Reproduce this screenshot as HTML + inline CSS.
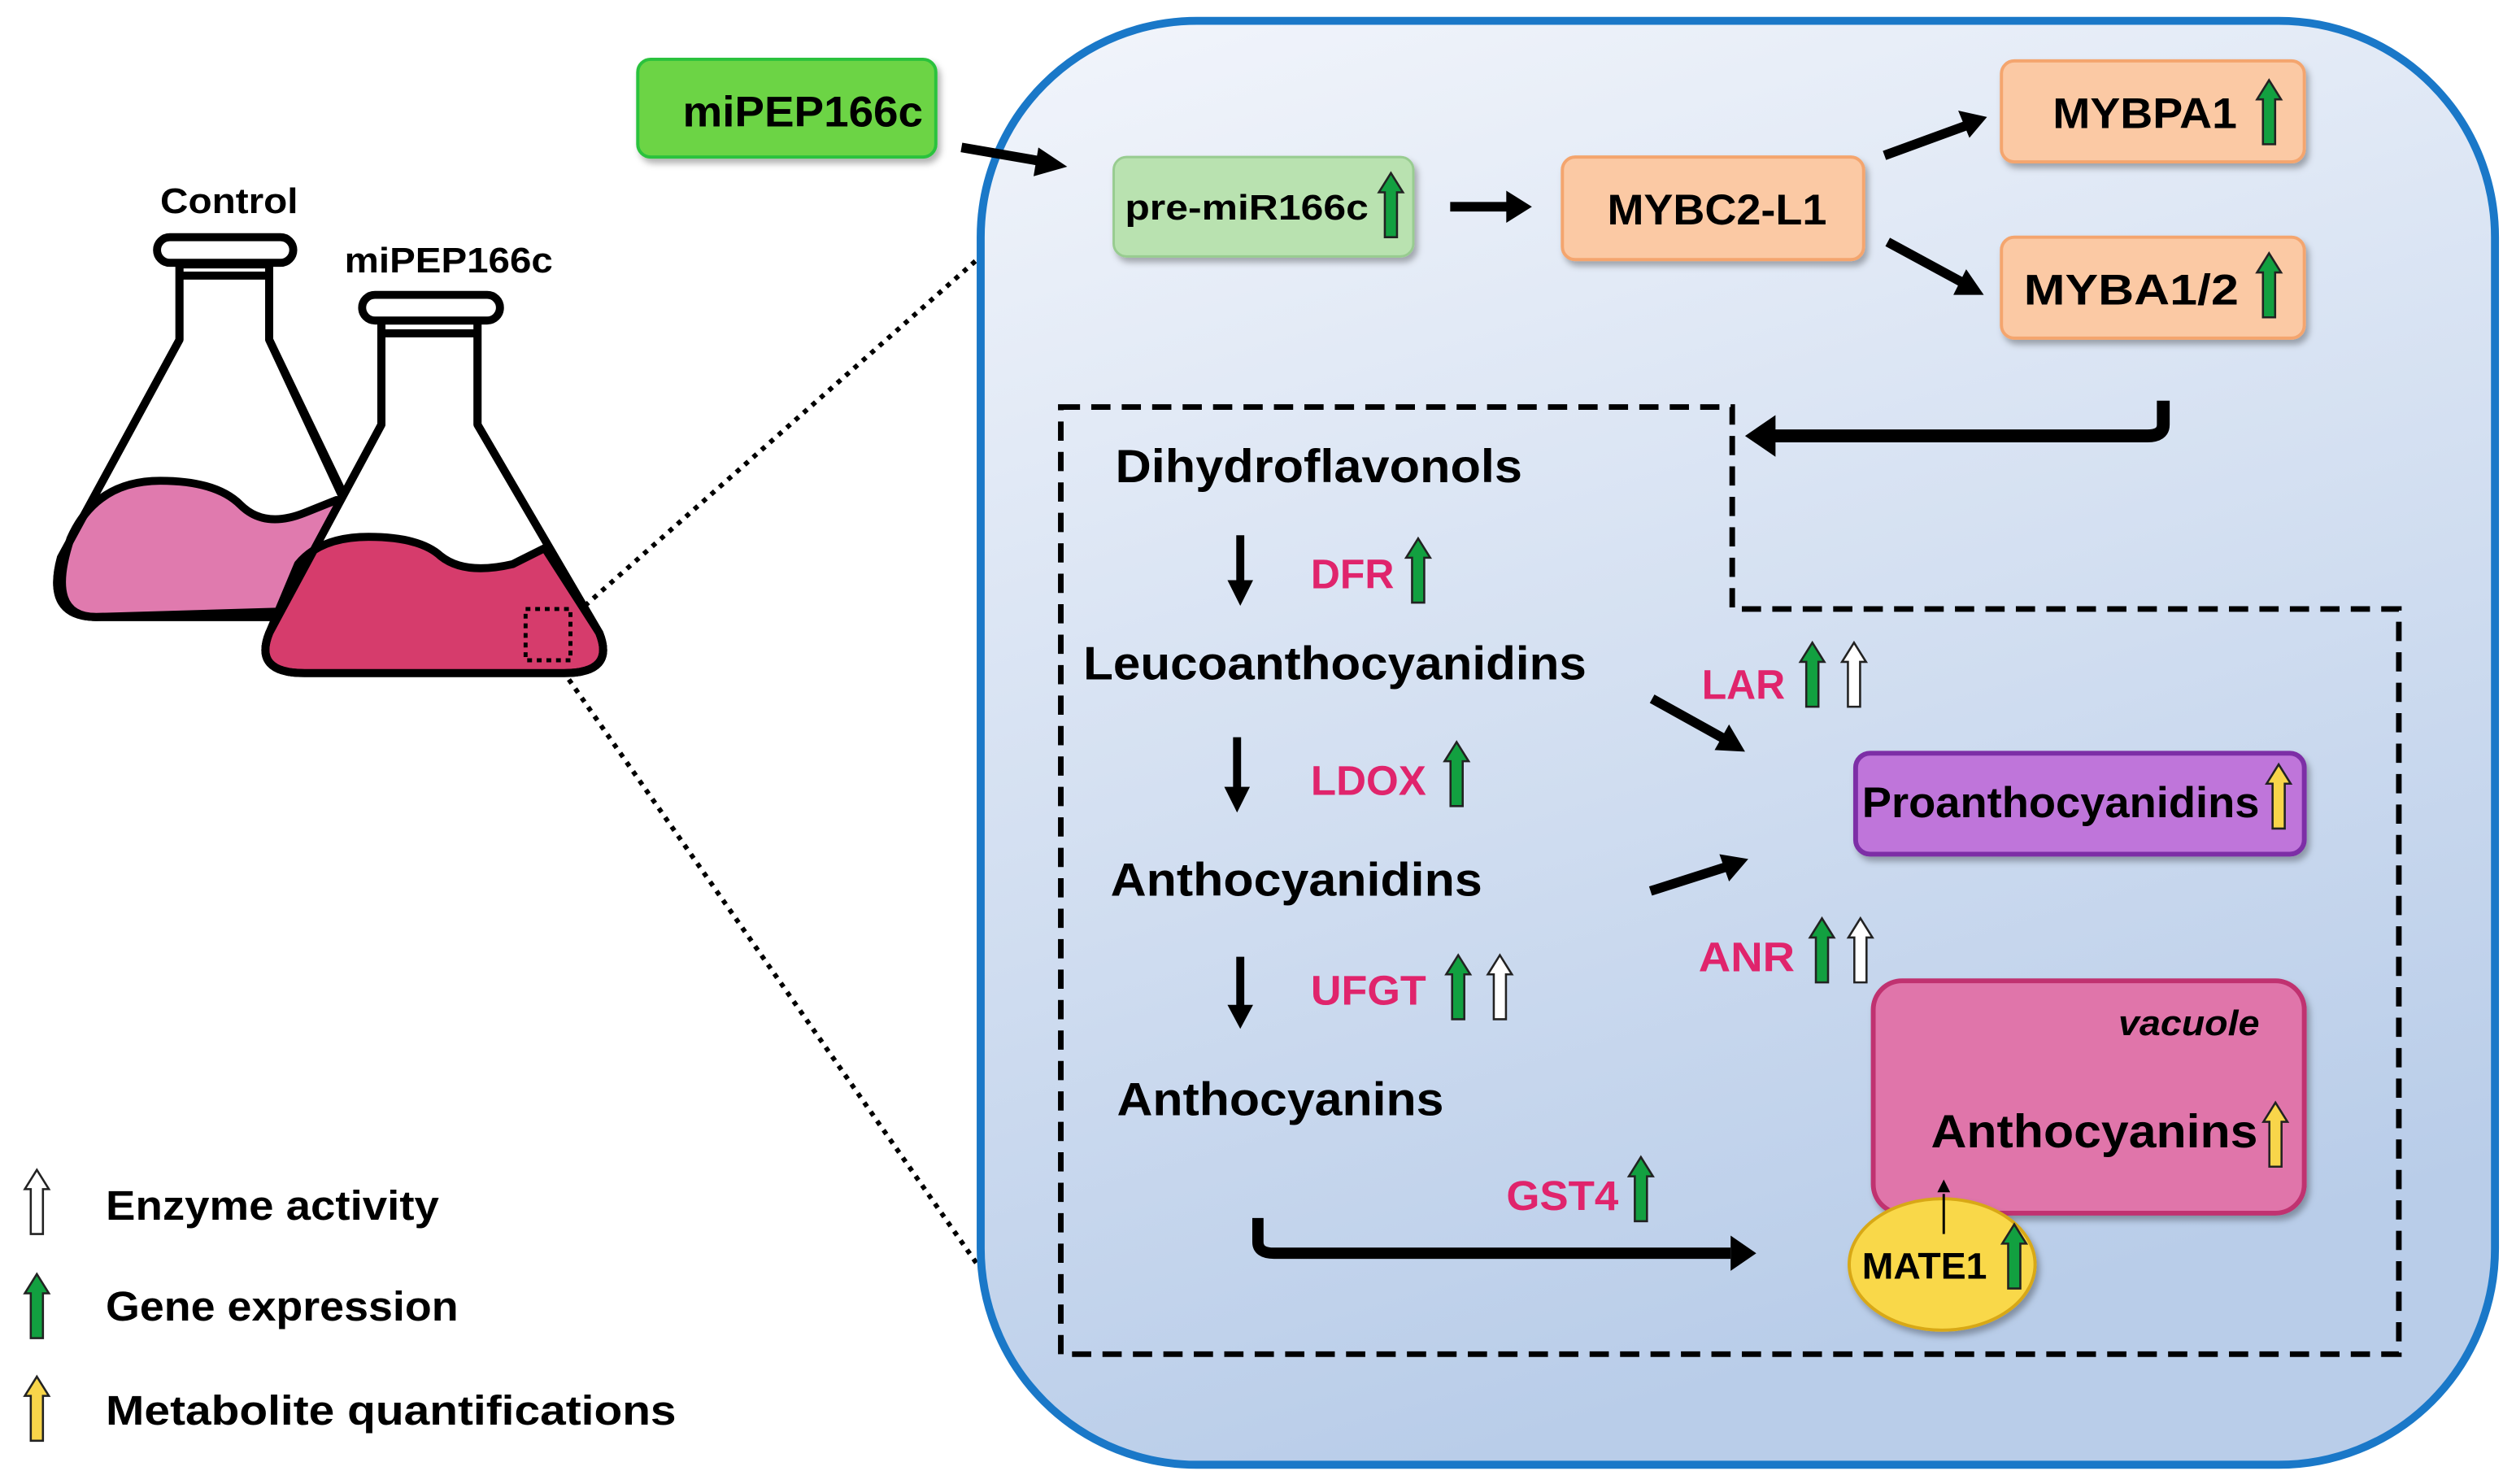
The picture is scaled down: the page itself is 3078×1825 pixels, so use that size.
<!DOCTYPE html>
<html><head><meta charset="utf-8"><style>
html,body{margin:0;padding:0;background:#fff}
svg{display:block}
text{font-family:"Liberation Sans Narrow","Liberation Sans",sans-serif;font-weight:bold}
</style></head><body>
<svg width="3078" height="1825" viewBox="0 0 1562 926" preserveAspectRatio="none" xmlns="http://www.w3.org/2000/svg">
<defs>
<linearGradient id="bg" x1="0" y1="0" x2="0.3" y2="1">
<stop offset="0" stop-color="#f2f5fb"/><stop offset="1" stop-color="#b9cde9"/></linearGradient>
<filter id="sh" x="-10%" y="-10%" width="130%" height="140%"><feDropShadow dx="2" dy="3" stdDeviation="2" flood-color="#000" flood-opacity="0.3"/></filter>
<path id="ua" d="M0,0 L7.5,12 L3.8,12 L3.8,40 L-3.8,40 L-3.8,12 L-7.5,12 Z" stroke="#222" stroke-width="1.3"/>
</defs>
<line x1="365" y1="378" x2="612" y2="160" stroke="#000" stroke-width="3" stroke-dasharray="3,4"/>
<line x1="355" y1="424" x2="612" y2="792" stroke="#000" stroke-width="3" stroke-dasharray="3,4"/>
<rect x="612" y="13" width="945" height="901" rx="135" fill="url(#bg)" stroke="#1a78c8" stroke-width="5"/>
<g stroke="#000" stroke-width="5" stroke-linejoin="round">
<path d="M112,165 L112,212 L38,348 Q28,385 60,385 L222,385 L232,345 L168,212 L168,165 Z" fill="#fff"/>
<path d="M44,336 Q60,300 100,300 Q135,300 150,315 Q165,330 190,320 L210,312 L232,380 L60,385 Q28,385 44,336 Z" fill="#e07aae"/>
<path d="M112,165 L112,212 L38,348 Q28,385 60,385 L222,385 M168,165 L168,212 L230,345" fill="none"/>
<rect x="98" y="148" width="85" height="16" rx="8" fill="#fff"/>
<line x1="112" y1="172" x2="168" y2="172"/>
<path d="M238,200 L238,265 L168,395 Q158,420 190,420 L352,420 Q384,420 374,395 L298,265 L298,200 Z" fill="#fff"/>
<path d="M186,352 Q200,335 230,335 Q262,335 275,347 Q290,359 320,352 L340,342 L374,395 Q384,420 352,420 L190,420 Q158,420 168,395 Z" fill="#d63c6c"/>
<path d="M238,200 L238,265 L168,395 Q158,420 190,420 L352,420 Q384,420 374,395 L298,265 L298,200" fill="none"/>
<rect x="226" y="184" width="86" height="16" rx="8" fill="#fff"/>
<line x1="238" y1="208" x2="298" y2="208"/>
</g>
<rect x="328" y="380" width="28" height="32" fill="none" stroke="#000" stroke-width="2.5" stroke-dasharray="3,3"/>
<text x="100" y="133" font-size="22" textLength="86" lengthAdjust="spacingAndGlyphs">Control</text>
<text x="215" y="170" font-size="22" textLength="130" lengthAdjust="spacingAndGlyphs">miPEP166c</text>
<rect x="398" y="37" width="186" height="61" rx="8" fill="#6cd444" stroke="#2cc23c" stroke-width="2" filter="url(#sh)"/>
<text x="426" y="79" font-size="27" textLength="150" lengthAdjust="spacingAndGlyphs">miPEP166c</text>
<rect x="695" y="98" width="187" height="62" rx="8" fill="#b9e2b0" stroke="#98cc90" stroke-width="1.5" filter="url(#sh)"/>
<text x="702" y="137" font-size="22" textLength="152" lengthAdjust="spacingAndGlyphs">pre-miR166c</text>
<use href="#ua" transform="translate(868,108)" fill="#12a040"/>
<rect x="975" y="98" width="188" height="64" rx="8" fill="#fbc9a4" stroke="#f4a56e" stroke-width="2" filter="url(#sh)"/>
<text x="1003" y="140" font-size="27" textLength="137" lengthAdjust="spacingAndGlyphs">MYBC2-L1</text>
<rect x="1249" y="38" width="189" height="63" rx="8" fill="#fbc9a4" stroke="#f4a56e" stroke-width="2" filter="url(#sh)"/>
<text x="1281" y="80" font-size="27" textLength="115" lengthAdjust="spacingAndGlyphs">MYBPA1</text>
<use href="#ua" transform="translate(1416,50)" fill="#12a040"/>
<rect x="1249" y="148" width="189" height="63" rx="8" fill="#fbc9a4" stroke="#f4a56e" stroke-width="2" filter="url(#sh)"/>
<text x="1263" y="190" font-size="27" textLength="134" lengthAdjust="spacingAndGlyphs">MYBA1/2</text>
<use href="#ua" transform="translate(1416,158)" fill="#12a040"/>
<g stroke="#000" stroke-width="6" fill="#000">
<line x1="600" y1="92" x2="652" y2="101"/>
<line x1="905" y1="129" x2="942" y2="129"/>
<line x1="1176" y1="97" x2="1228" y2="78"/>
<line x1="1178" y1="151" x2="1226" y2="177"/>
</g>
<g fill="#000">
<path d="M666,104 L648,92 L645,110 Z"/>
<path d="M956,129 L940,119 L940,139 Z"/>
<path d="M1240,73 L1222,69 L1229,86 Z"/>
<path d="M1238,184 L1227,168 L1219,184 Z"/>
</g>
<path d="M1350,250 L1350,265 Q1350,272 1340,272 L1105,272" fill="none" stroke="#000" stroke-width="8"/>
<path d="M1089,272 L1108,259 L1108,285 Z" fill="#000"/>
<path d="M662,254 L1081,254 L1081,380 L1497,380 L1497,845 L662,845 Z" fill="none" stroke="#000" stroke-width="3.5" stroke-dasharray="12,7"/>
<text x="696" y="301" font-size="29" textLength="254" lengthAdjust="spacingAndGlyphs">Dihydroflavonols</text>
<text x="676" y="424" font-size="29" textLength="314" lengthAdjust="spacingAndGlyphs">Leucoanthocyanidins</text>
<text x="693" y="559" font-size="29" textLength="232" lengthAdjust="spacingAndGlyphs">Anthocyanidins</text>
<text x="697" y="696" font-size="29" textLength="204" lengthAdjust="spacingAndGlyphs">Anthocyanins</text>
<g stroke="#000" stroke-width="5">
<line x1="774" y1="334" x2="774" y2="365"/>
<line x1="772" y1="460" x2="772" y2="494"/>
<line x1="774" y1="597" x2="774" y2="630"/>
</g>
<g fill="#000">
<path d="M774,378 L766,362 L782,362 Z"/>
<path d="M772,507 L764,491 L780,491 Z"/>
<path d="M774,642 L766,627 L782,627 Z"/>
</g>
<g fill="#e0246c" font-size="26">
<text x="818" y="367" textLength="52" lengthAdjust="spacingAndGlyphs">DFR</text>
<text x="818" y="496" textLength="72" lengthAdjust="spacingAndGlyphs">LDOX</text>
<text x="818" y="627" textLength="72" lengthAdjust="spacingAndGlyphs">UFGT</text>
<text x="1062" y="436" textLength="52" lengthAdjust="spacingAndGlyphs">LAR</text>
<text x="1060" y="606" textLength="60" lengthAdjust="spacingAndGlyphs">ANR</text>
<text x="940" y="755" textLength="70" lengthAdjust="spacingAndGlyphs">GST4</text>
</g>
<use href="#ua" transform="translate(885,336)" fill="#12a040"/>
<use href="#ua" transform="translate(909,463)" fill="#12a040"/>
<use href="#ua" transform="translate(910,596)" fill="#12a040"/>
<use href="#ua" transform="translate(936,596)" fill="#fff"/>
<use href="#ua" transform="translate(1131,401)" fill="#12a040"/>
<use href="#ua" transform="translate(1157,401)" fill="#fff"/>
<use href="#ua" transform="translate(1137,573)" fill="#12a040"/>
<use href="#ua" transform="translate(1161,573)" fill="#fff"/>
<use href="#ua" transform="translate(1024,722)" fill="#12a040"/>
<g stroke="#000" stroke-width="6">
<line x1="1031" y1="436" x2="1076" y2="461"/>
<line x1="1030" y1="556" x2="1077" y2="541"/>
</g>
<path d="M1089,469 L1079,452 L1070,468 Z M1091,536 L1073,533 L1079,550 Z" fill="#000"/>
<path d="M785,760 L785,775 Q785,782 795,782 L1080,782" fill="none" stroke="#000" stroke-width="7"/>
<path d="M1096,782 L1080,771 L1080,793 Z" fill="#000"/>
<rect x="1158" y="470" width="280" height="63" rx="9" fill="#bf75da" stroke="#7d2fa6" stroke-width="3" filter="url(#sh)"/>
<text x="1162" y="510" font-size="27" textLength="248" lengthAdjust="spacingAndGlyphs">Proanthocyanidins</text>
<use href="#ua" transform="translate(1422,477)" fill="#f8d54a"/>
<rect x="1169" y="612" width="269" height="145" rx="18" fill="#e075aa" stroke="#c03070" stroke-width="3" filter="url(#sh)"/>
<text x="1322" y="646" font-size="22" font-style="italic" font-weight="normal" textLength="88" lengthAdjust="spacingAndGlyphs">vacuole</text>
<text x="1205" y="716" font-size="29" textLength="204" lengthAdjust="spacingAndGlyphs">Anthocyanins</text>
<use href="#ua" transform="translate(1420,688)" fill="#f8d54a"/>
<ellipse cx="1212" cy="789" rx="58" ry="41" fill="#f9d84a" stroke="#d8a818" stroke-width="2" filter="url(#sh)"/>
<line x1="1213" y1="770" x2="1213" y2="745" stroke="#000" stroke-width="1.5"/>
<path d="M1213,736 L1209,744 L1217,744 Z" fill="#000"/>
<text x="1162" y="798" font-size="23" textLength="78" lengthAdjust="spacingAndGlyphs">MATE1</text>
<use href="#ua" transform="translate(1257,764)" fill="#12a040"/>
<use href="#ua" transform="translate(23,730)" fill="#fff"/>
<use href="#ua" transform="translate(23,795)" fill="#12a040"/>
<use href="#ua" transform="translate(23,859)" fill="#f8d54a"/>
<text x="66" y="761" font-size="26" textLength="208" lengthAdjust="spacingAndGlyphs">Enzyme activity</text>
<text x="66" y="824" font-size="26" textLength="220" lengthAdjust="spacingAndGlyphs">Gene expression</text>
<text x="66" y="889" font-size="26" textLength="356" lengthAdjust="spacingAndGlyphs">Metabolite quantifications</text>
</svg>
</body></html>
